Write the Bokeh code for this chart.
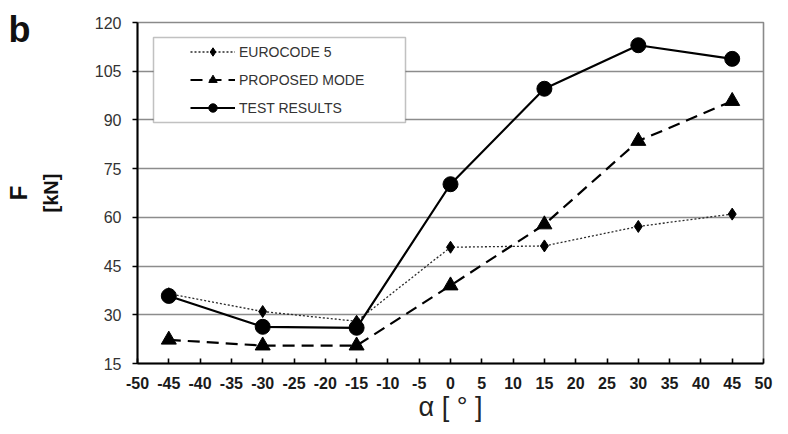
from bokeh.plotting import figure
from bokeh.models import BoxAnnotation, FixedTicker, LinearAxis
from bokeh.embed import file_html
from bokeh.resources import INLINE

# ---- data ----
angles = [-45, -30, -15, 0, 15, 30, 45]
eurocode5 = [36.5, 31.0, 28.0, 50.8, 51.2, 57.2, 61.0]
proposed = [22.3, 20.5, 20.5, 39.0, 57.8, 83.5, 95.8]
test_results = [35.8, 26.3, 26.0, 70.2, 99.6, 113.0, 108.8]
x_ticks = list(range(-50, 55, 5))
y_ticks = [15, 30, 45, 60, 75, 90, 105, 120]
series_names = ["EUROCODE 5", "PROPOSED MODE", "TEST RESULTS"]
panel_letter = "b"
y_title = "F"
y_unit = "[kN]"
x_title = "α [ ° ]"

FONT = "Liberation Sans"

# ---- layout (pixels) ----
W, H = 780, 426
LEFT, RIGHT, TOP, BOTTOM = 137, 17, 22, 63
X0, X1 = x_ticks[0], x_ticks[-1]
Y0, Y1 = y_ticks[0], y_ticks[-1]

p = figure(width=W, height=H, x_range=(X0, X1), y_range=(Y0, Y1),
           output_backend="svg", toolbar_location=None,
           min_border_left=LEFT, min_border_right=RIGHT,
           min_border_top=TOP, min_border_bottom=BOTTOM)
p.background_fill_color = "white"
p.border_fill_color = "white"
p.outline_line_color = "#8a8a8a"
p.outline_line_width = 1.6

# grid
p.xgrid.grid_line_color = None
p.ygrid.grid_line_color = "#8c8c8c"
p.ygrid.grid_line_width = 1.6
p.ygrid.ticker = FixedTicker(ticks=y_ticks)

# axes
p.xaxis.ticker = FixedTicker(ticks=x_ticks)
p.yaxis.ticker = FixedTicker(ticks=y_ticks)
p.xaxis.major_label_overrides = {t: str(t) for t in x_ticks}
p.yaxis.major_label_overrides = {t: str(t) for t in y_ticks}
for ax in (p.xaxis[0], p.yaxis[0]):
    ax.axis_line_color = "black"
    ax.axis_line_width = 2
    ax.major_tick_line_color = "black"
    ax.major_tick_line_width = 1.6
    ax.minor_tick_line_color = None
    ax.major_label_text_font = FONT
p.xaxis.major_tick_in = 5
p.xaxis.major_tick_out = 0
p.xaxis.major_label_text_font_size = "16px"
p.xaxis.major_label_text_font_style = "bold"
p.xaxis.major_label_text_color = "#1a1a1a"
p.xaxis.major_label_standoff = 13
p.xaxis.axis_label = x_title
p.xaxis.axis_label_text_font = FONT
p.xaxis.axis_label_text_font_size = "27px"
p.xaxis.axis_label_text_font_style = "normal"
p.xaxis.axis_label_text_color = "#222222"
p.xaxis.axis_label_standoff = 0

p.yaxis.major_tick_in = 0
p.yaxis.major_tick_out = 5
p.yaxis.major_label_text_font_size = "16px"
p.yaxis.major_label_text_color = "#333333"
p.yaxis.major_label_standoff = 11
p.yaxis.axis_label = y_unit
p.yaxis.axis_label_text_font = FONT
p.yaxis.axis_label_text_font_size = "20px"
p.yaxis.axis_label_text_font_style = "bold"
p.yaxis.axis_label_text_color = "#111111"
p.yaxis.axis_label_standoff = 30

# outer left axis: carries the panel letter (as a tick label near the top) and "F"
letter_pos = 117.8
outer = LinearAxis(ticker=FixedTicker(ticks=[letter_pos]),
                   major_label_overrides={letter_pos: panel_letter},
                   axis_line_color=None, major_tick_line_color=None,
                   minor_tick_line_color=None, major_tick_in=0, major_tick_out=0,
                   major_label_standoff=6, major_label_text_font=FONT,
                   major_label_text_font_size="36px",
                   major_label_text_font_style="bold",
                   major_label_text_color="#111111",
                   axis_label=y_title, axis_label_text_font=FONT,
                   axis_label_text_font_size="24px",
                   axis_label_text_font_style="bold",
                   axis_label_text_color="#111111",
                   axis_label_standoff=-26)
p.add_layout(outer, "left")

# series
p.line(angles, eurocode5, line_color="#2a2a2a", line_width=1.3, line_dash="2 2",
       legend_label=series_names[0])
p.scatter(angles, eurocode5, marker="diamond", size=12, color="black",
          legend_label=series_names[0])

p.line(angles, proposed, line_color="black", line_width=2.2, line_dash="12 7",
       legend_label=series_names[1])
p.scatter(angles, proposed, marker="triangle", size=15, color="black",
          legend_label=series_names[1])

p.line(angles, test_results, line_color="black", line_width=2.2,
       legend_label=series_names[2])
p.scatter(angles, test_results, marker="circle", size=15, color="black",
          legend_label=series_names[2])

# legend frame (box) + legend
box = BoxAnnotation(left=16, right=268, top=326, bottom=241,
                    left_units="screen", right_units="screen",
                    top_units="screen", bottom_units="screen",
                    fill_color="white", fill_alpha=1.0,
                    line_color="#333333", line_width=1.5, level="annotation")
p.add_layout(box)

p.legend.location = (53, 245)
p.legend.margin = 0
p.legend.padding = 0
p.legend.spacing = 7
p.legend.glyph_width = 45
p.legend.glyph_height = 21
p.legend.label_standoff = 4
p.legend.label_text_font = FONT
p.legend.label_text_font_size = "14px"
p.legend.label_text_color = "#333333"
p.legend.border_line_color = None
p.legend.background_fill_alpha = 0.0

open("out.html", "w").write(file_html(p, INLINE))
